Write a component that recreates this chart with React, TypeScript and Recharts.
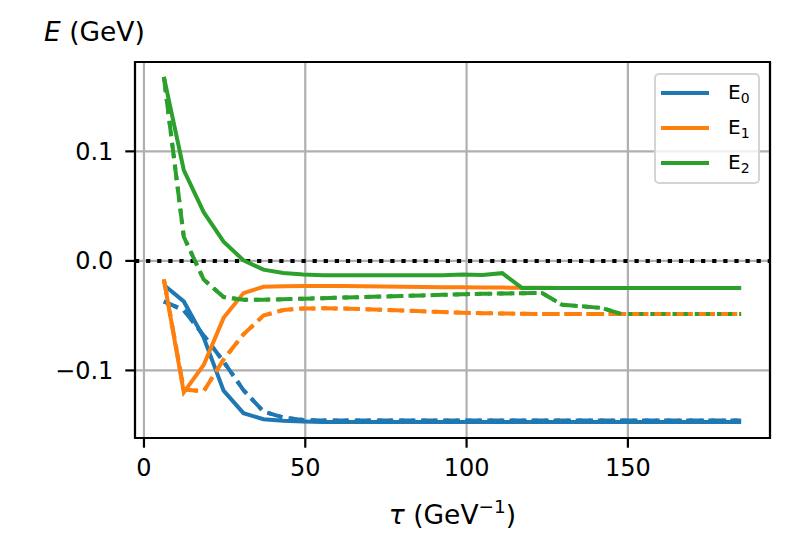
import React from 'react';
import {
  LineChart,
  Line,
  XAxis,
  YAxis,
  CartesianGrid,
  ReferenceLine,
  ReferenceArea,
  Legend,
  Label,
} from 'recharts';

const FONT = '"DejaVu Sans", "Liberation Sans", sans-serif';

// Euclidean time values (GeV^-1)
const tau = [
  6.17, 12.34, 18.51, 24.68, 30.85, 37.02, 43.19, 49.36, 55.53, 61.7,
  67.87, 74.04, 80.21, 86.38, 92.55, 98.72, 104.89, 111.06, 117.23, 123.4,
  129.57, 135.74, 141.91, 148.08, 154.25, 160.42, 166.59, 172.76, 178.93, 185.1,
];

// E0
const e0Solid = [
  -0.022, -0.037, -0.07, -0.1185, -0.139, -0.1446, -0.146, -0.1466, -0.147, -0.147,
  -0.147, -0.147, -0.147, -0.147, -0.147, -0.147, -0.147, -0.147, -0.147, -0.147,
  -0.147, -0.147, -0.147, -0.147, -0.147, -0.147, -0.147, -0.147, -0.147, -0.147,
];
const e0Dashed = [
  -0.037, -0.045, -0.068, -0.092, -0.118, -0.1375, -0.143, -0.1452, -0.1457, -0.1458,
  -0.1458, -0.1458, -0.1458, -0.1458, -0.1458, -0.1458, -0.1458, -0.1458, -0.1458, -0.1458,
  -0.1458, -0.1458, -0.1458, -0.1458, -0.1458, -0.1458, -0.1458, -0.1458, -0.1458, -0.1458,
];
const e0Dotted = [
  -0.037, -0.045, -0.068, -0.092, -0.118, -0.1375, -0.143, -0.1452, -0.1457, -0.1458,
  -0.1458, -0.1458, -0.1458, -0.1458, -0.1458, -0.1458, -0.1458, -0.1458, -0.1458, -0.1458,
  -0.1458, -0.1458, -0.1458, -0.1458, -0.1458, -0.1458, -0.1458, -0.1458, -0.1458, -0.1458,
];

// E1
const e1Solid = [
  -0.017, -0.12, -0.095, -0.052, -0.0294, -0.0236, -0.0232, -0.023, -0.023, -0.023,
  -0.0232, -0.0234, -0.0236, -0.0238, -0.024, -0.024, -0.0242, -0.0244, -0.0246, -0.0246,
  -0.0247, -0.0247, -0.0248, -0.0248, -0.0248, -0.0248, -0.0248, -0.0248, -0.0248, -0.0248,
];
const e1Dashed = [
  -0.017, -0.1175, -0.119, -0.09, -0.067, -0.05, -0.0448, -0.0435, -0.0433, -0.0435,
  -0.044, -0.0447, -0.0453, -0.046, -0.0467, -0.0473, -0.0478, -0.048, -0.0483, -0.0485,
  -0.0485, -0.0485, -0.0485, -0.0485, -0.0485, -0.0485, -0.0485, -0.0485, -0.0485, -0.0485,
];
const e1Dotted = [
  -0.017, -0.1175, -0.119, -0.09, -0.067, -0.05, -0.0448, -0.0435, -0.0433, -0.0435,
  -0.044, -0.0447, -0.0453, -0.046, -0.0467, -0.0473, -0.0478, -0.048, -0.0483, -0.0485,
  -0.0485, -0.0485, -0.0485, -0.0485, -0.0485, -0.0485, -0.0485, -0.0485, -0.0485, -0.0485,
];

// E2
const e2Solid = [
  0.168, 0.083, 0.0445, 0.0175, 0.0005, -0.008, -0.011, -0.0125, -0.013, -0.013,
  -0.013, -0.013, -0.013, -0.013, -0.013, -0.0125, -0.0128, -0.0112, -0.0248, -0.0248,
  -0.0248, -0.0248, -0.0248, -0.0248, -0.0248, -0.0248, -0.0248, -0.0248, -0.0248, -0.0248,
];
const e2Dashed = [
  0.168, 0.022, -0.017, -0.033, -0.0355, -0.0355, -0.035, -0.0345, -0.034, -0.0335,
  -0.033, -0.0325, -0.032, -0.0315, -0.031, -0.0305, -0.03, -0.0298, -0.0295, -0.0293,
  -0.04, -0.0415, -0.043, -0.0485, null, null, null, null, null, null,
];
const e2Dotted = [
  0.168, 0.022, -0.017, -0.033, -0.0355, -0.0355, -0.035, -0.0345, -0.034, -0.0335,
  -0.033, -0.0325, -0.032, -0.0315, -0.031, -0.0305, -0.03, -0.0298, -0.0295, -0.0293,
  -0.04, -0.0415, -0.043, -0.0485, -0.0485, -0.0485, -0.0485, -0.0485, -0.0485, -0.0485,
];

const xTicks = [0, 50, 100, 150];
const yTicks = [-0.1, 0, 0.1];
const legendLabels = ['0', '1', '2'];

const X_DOMAIN: [number, number] = [-2.78, 194.05];
const Y_DOMAIN: [number, number] = [-0.1617, 0.1816];

const BLUE = '#1f77b4';
const ORANGE = '#ff7f0e';
const GREEN = '#2ca02c';
const LW = 4;
const DASHED = '15.4 6.7';
const DOTTED = '4.2 6.9';

const seriesDefs = [
  { key: 'e0s', values: e0Solid, color: BLUE, dash: undefined },
  { key: 'e0d', values: e0Dashed, color: BLUE, dash: DASHED },
  { key: 'e0o', values: e0Dotted, color: BLUE, dash: DOTTED },
  { key: 'e1s', values: e1Solid, color: ORANGE, dash: undefined },
  { key: 'e1d', values: e1Dashed, color: ORANGE, dash: DASHED },
  { key: 'e1o', values: e1Dotted, color: ORANGE, dash: DOTTED },
  { key: 'e2s', values: e2Solid, color: GREEN, dash: undefined },
  { key: 'e2d', values: e2Dashed, color: GREEN, dash: DASHED },
  { key: 'e2o', values: e2Dotted, color: GREEN, dash: DOTTED },
];

const legendColors = [BLUE, ORANGE, GREEN];

const fmtY = (v: number) => (v < 0 ? '\u2212' + Math.abs(v).toFixed(1) : v.toFixed(1));

const LegendBox = () => (
  <div
    style={{
      boxSizing: 'border-box',
      width: 106,
      height: 111,
      border: '2px solid #d4d4d4',
      borderRadius: 5,
      background: 'rgba(255,255,255,0.8)',
      paddingTop: 0,
      fontFamily: FONT,
      fontSize: 20,
      color: '#000',
    }}
  >
    {legendLabels.map((lab, i) => (
      <div key={lab} style={{ display: 'flex', alignItems: 'center', height: 35 }}>
        <svg width={72} height={10} style={{ display: 'block' }}>
          <line x1={5} x2={53} y1={5} y2={5} stroke={legendColors[i]} strokeWidth={LW} />
        </svg>
        <span style={{ lineHeight: '20px' }}>
          E<span style={{ fontSize: 14, position: 'relative', top: 4 }}>{lab}</span>
        </span>
      </div>
    ))}
  </div>
);

export default function App() {
  const data = tau.map((t, i) => {
    const row: Record<string, number | null> = { tau: t };
    seriesDefs.forEach((s) => {
      row[s.key] = s.values[i];
    });
    return row;
  });

  return (
    <div style={{ position: 'absolute', left: 0, top: 0, width: 800, height: 560, background: '#fff' }}>
      <LineChart
        width={800}
        height={560}
        data={data}
        margin={{ top: 62, right: 30, bottom: 62, left: 0 }}
      >
        <CartesianGrid stroke="#b0b0b0" strokeWidth={2.2} />
        <XAxis
          type="number"
          dataKey="tau"
          domain={X_DOMAIN}
          ticks={xTicks}
          allowDataOverflow
          height={60}
          axisLine={false}
          tickSize={9.7}
          tickMargin={11}
          tickLine={{ stroke: '#000', strokeWidth: 2.2 }}
          tick={{ fill: '#000', fontSize: 24, fontFamily: FONT }}
        >
          <Label
            content={(props: any) => {
              const vb = props.viewBox || { x: 135, width: 635 };
              return (
                <text
                  x={vb.x + vb.width / 2}
                  y={524}
                  textAnchor="middle"
                  fontFamily={FONT}
                  fontSize={26.5}
                  fill="#000"
                >
                  <tspan fontStyle="italic">τ</tspan>
                  <tspan> (GeV</tspan>
                  <tspan fontSize={18.5} dy={-11}>{'\u22121'}</tspan>
                  <tspan dy={11}>)</tspan>
                </text>
              );
            }}
          />
        </XAxis>
        <YAxis
          type="number"
          domain={Y_DOMAIN}
          ticks={yTicks}
          allowDataOverflow
          width={135}
          axisLine={false}
          tickSize={9.7}
          tickMargin={12}
          tickFormatter={fmtY}
          tickLine={{ stroke: '#000', strokeWidth: 2.2 }}
          tick={{ fill: '#000', fontSize: 24, fontFamily: FONT }}
        >
          <Label
            content={() => (
              <text x={44} y={41} fontFamily={FONT} fontSize={26.5} fill="#000">
                <tspan fontStyle="italic">E</tspan>
                <tspan> (GeV)</tspan>
              </text>
            )}
          />
        </YAxis>
        <ReferenceLine y={0} stroke="#000" strokeWidth={4} strokeDasharray={DOTTED} />
        {seriesDefs.map((s) => (
          <Line
            key={s.key}
            type="linear"
            dataKey={s.key}
            stroke={s.color}
            strokeWidth={LW}
            strokeDasharray={s.dash}
            dot={false}
            activeDot={false}
            isAnimationActive={false}
            legendType="none"
          />
        ))}
        <ReferenceArea
          x1={X_DOMAIN[0]}
          x2={X_DOMAIN[1]}
          y1={Y_DOMAIN[0]}
          y2={Y_DOMAIN[1]}
          fill="none"
          fillOpacity={0}
          stroke="#000"
          strokeWidth={2.2}
          ifOverflow="visible"
        />
        <Legend
          layout="vertical"
          align="center"
          verticalAlign="middle"
          wrapperStyle={{ left: 654, top: 73, width: 106, height: 111 }}
          content={() => <LegendBox />}
        />
      </LineChart>
    </div>
  );
}
